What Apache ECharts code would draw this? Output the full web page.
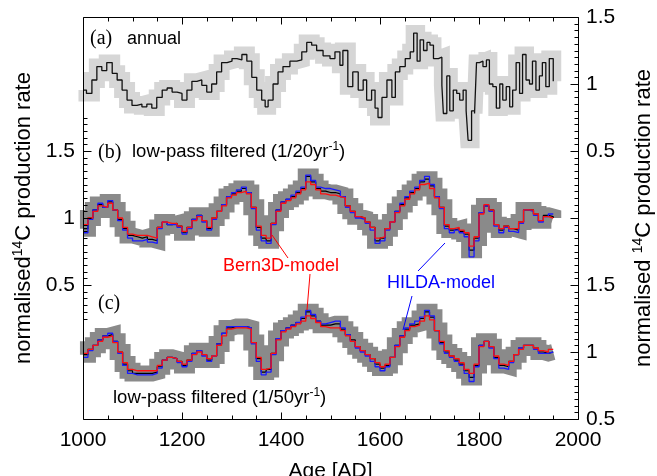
<!DOCTYPE html>
<html><head><meta charset="utf-8">
<script src="https://cdn.jsdelivr.net/npm/echarts@6/dist/echarts.min.js"></script>
<style>html,body{margin:0;padding:0;background:#fff}#c{width:657px;height:476px}</style>
</head><body><div id="c"></div>
<script>
// x positions (AD) shared by panels (b) and (c)
const years = [1000,1010,1020,1030,1040,1050,1060,1070,1080,1090,
1100,1110,1120,1130,1140,1150,1160,1170,1180,1190,
1200,1210,1220,1230,1240,1250,1260,1270,1280,1290,
1300,1310,1320,1330,1340,1350,1360,1370,1380,1390,
1400,1410,1420,1430,1440,1450,1460,1470,1480,1490,
1500,1510,1520,1530,1540,1550,1560,1570,1580,1590,
1600,1610,1620,1630,1640,1650,1660,1670,1680,1690,
1700,1710,1720,1730,1740,1750,1760,1770,1780,1790,
1800,1810,1820,1830,1840,1850,1860,1870,1880,1890,
1900,1910,1920,1930,1940,1950];

// (a) annual
const aYears = [1000,1007,1018,1028,1038,1048,1059,1069,1079,1089,1099,1109,1119,1129,1139,1149,1160,1170,1180,1190,1200,1210,1220,1230,1240,1250,1260,1270,1280,1291,1301,1311,1321,1331,1341,1351,1361,1368,1374,1384,1394,1404,1418,1432,1442,1452,1462,1472,1485,1499,1509,1519,1525,1535,1545,1556,1566,1573,1583,1590,1596,1604,1614,1624,1631,1640,1651,1661,1668,1675,1681,1688,1695,1701,1708,1718,1725,1728,1735,1741,1748,1755,1761,1768,1774,1778,1785,1791,1795,1801,1808,1815,1821,1828,1835,1842,1848,1855,1862,1868,1875,1882,1888,1895,1902,1908,1915,1922,1928,1935,1942,1950];
const aVals = [0.955,0.93,1.03,1.13,1.10,1.16,1.08,1.03,0.955,0.88,0.84,0.85,0.83,0.85,0.82,0.90,0.955,0.97,0.94,0.93,0.88,0.955,1.02,1.03,0.99,0.94,1.00,1.09,1.16,1.17,1.19,1.18,1.22,1.17,1.05,0.955,0.88,0.83,0.88,1.00,1.09,1.13,1.17,1.18,1.24,1.31,1.29,1.25,1.21,1.19,1.24,1.14,1.25,0.98,1.09,0.955,1.03,0.88,0.955,0.82,0.75,0.90,1.03,0.90,1.09,1.13,1.19,1.24,1.38,1.17,1.33,1.25,1.31,1.29,1.19,1.20,0.99,0.78,1.06,0.80,0.955,0.93,0.88,0.955,0.80,0.58,0.80,0.78,1.16,1.17,1.13,1.18,1.00,0.98,0.82,1.00,0.88,0.98,0.83,0.955,1.16,0.93,1.22,1.03,1.00,1.17,0.955,1.06,1.16,0.98,1.19,1.02];

// (b) low-pass 1/20yr
const bData = [0.92,1.00,1.06,1.10,1.08,1.12,1.06,0.99,0.92,0.87,
0.86,0.85,0.86,0.84,0.83,0.93,0.97,0.95,0.96,0.94,
0.89,0.93,0.99,1.02,0.98,0.92,1.00,1.05,1.10,1.16,
1.18,1.20,1.22,1.19,1.08,0.93,0.85,0.83,0.96,1.06,
1.12,1.14,1.16,1.19,1.22,1.31,1.27,1.22,1.20,1.19,
1.19,1.18,1.16,1.09,1.05,1.01,1.00,0.97,0.93,0.83,
0.85,0.92,0.97,1.05,1.10,1.15,1.19,1.22,1.27,1.29,
1.24,1.16,1.08,0.94,0.91,0.92,0.90,0.88,0.76,0.85,
1.04,1.09,1.06,0.95,0.91,0.94,0.92,0.91,0.97,1.06,
1.06,1.03,0.98,1.02,1.01,1.00];
const bHilda = [0.89,0.99,1.06,1.11,1.08,1.13,1.06,0.98,0.91,0.85,
0.83,0.83,0.84,0.82,0.81,0.92,0.97,0.95,0.95,0.93,
0.88,0.92,0.99,1.02,0.97,0.91,0.99,1.05,1.10,1.16,
1.19,1.21,1.23,1.19,1.07,0.91,0.83,0.81,0.95,1.06,
1.12,1.14,1.17,1.20,1.23,1.32,1.28,1.23,1.22,1.22,
1.21,1.20,1.16,1.08,1.04,1.00,0.99,0.96,0.91,0.81,
0.83,0.91,0.97,1.05,1.11,1.16,1.20,1.23,1.28,1.31,
1.25,1.16,1.07,0.92,0.89,0.91,0.89,0.86,0.71,0.83,
1.04,1.09,1.05,0.94,0.89,0.93,0.90,0.89,0.96,1.06,
1.05,1.02,0.97,1.01,1.03,1.03];
const bBern = [0.95,1.00,1.05,1.09,1.08,1.11,1.06,1.00,0.93,0.88,
0.87,0.87,0.87,0.86,0.85,0.93,0.97,0.96,0.96,0.94,
0.90,0.93,0.98,1.01,0.98,0.93,1.00,1.05,1.09,1.15,
1.17,1.19,1.20,1.18,1.08,0.94,0.87,0.85,0.96,1.05,
1.11,1.13,1.15,1.18,1.21,1.27,1.25,1.21,1.18,1.17,
1.17,1.16,1.15,1.09,1.05,1.01,1.00,0.97,0.93,0.85,
0.86,0.92,0.97,1.04,1.09,1.14,1.18,1.21,1.25,1.26,
1.22,1.15,1.08,0.95,0.92,0.93,0.91,0.89,0.79,0.86,
1.03,1.10,1.06,0.95,0.92,0.94,0.92,0.92,0.97,1.06,
1.06,1.03,0.98,1.01,1.00,1.00];

// (c) low-pass 1/50yr
const cData = [0.98,1.02,1.05,1.09,1.12,1.13,1.08,1.00,0.91,0.86,
0.84,0.84,0.84,0.84,0.85,0.89,0.94,0.96,0.95,0.93,
0.90,0.94,0.99,1.01,0.98,0.94,0.97,1.06,1.14,1.18,
1.19,1.19,1.19,1.18,1.07,0.95,0.85,0.87,0.99,1.10,
1.16,1.18,1.20,1.22,1.25,1.30,1.27,1.23,1.20,1.20,
1.21,1.21,1.17,1.13,1.09,1.04,1.01,0.98,0.95,0.91,
0.88,0.90,0.96,1.05,1.12,1.17,1.20,1.21,1.25,1.30,
1.26,1.16,1.07,1.00,0.97,0.94,0.91,0.86,0.81,0.90,
1.05,1.08,1.04,0.96,0.90,0.89,0.93,0.98,1.03,1.05,
1.05,1.03,1.00,0.99,1.00,1.00];
const cHilda = [0.96,1.01,1.05,1.09,1.12,1.14,1.08,0.99,0.90,0.84,
0.83,0.83,0.83,0.83,0.84,0.88,0.94,0.96,0.95,0.92,
0.89,0.93,0.99,1.01,0.97,0.93,0.97,1.06,1.14,1.19,
1.19,1.19,1.19,1.18,1.06,0.93,0.83,0.85,0.98,1.10,
1.16,1.18,1.20,1.22,1.26,1.31,1.28,1.23,1.21,1.22,
1.23,1.23,1.18,1.13,1.08,1.03,1.00,0.97,0.93,0.89,
0.86,0.89,0.96,1.05,1.12,1.18,1.21,1.23,1.26,1.31,
1.27,1.16,1.06,0.99,0.96,0.93,0.90,0.84,0.78,0.89,
1.05,1.08,1.03,0.95,0.88,0.87,0.92,0.98,1.03,1.05,
1.05,1.02,0.99,0.99,1.00,1.00];
const cBern = [0.99,1.02,1.05,1.08,1.11,1.12,1.07,1.00,0.92,0.87,
0.86,0.86,0.86,0.86,0.86,0.90,0.94,0.96,0.95,0.93,
0.91,0.94,0.98,1.00,0.98,0.95,0.97,1.05,1.12,1.17,
1.18,1.18,1.18,1.17,1.07,0.96,0.87,0.88,0.99,1.09,
1.15,1.17,1.19,1.21,1.23,1.27,1.25,1.22,1.19,1.18,
1.18,1.18,1.16,1.12,1.08,1.04,1.01,0.98,0.95,0.92,
0.89,0.91,0.96,1.04,1.11,1.16,1.19,1.20,1.23,1.27,
1.24,1.16,1.08,1.01,0.97,0.95,0.92,0.87,0.84,0.91,
1.04,1.08,1.04,0.97,0.91,0.90,0.93,0.98,1.02,1.05,
1.05,1.03,1.01,1.00,1.02,1.02];

const xTicks = [1000,1200,1400,1600,1800,2000];

const pair = (xs, vs) => xs.map((x, i) => [x, vs[i]]);
const SANS = 'Liberation Sans, Arial, sans-serif';
const SERIF = 'Liberation Serif, Times New Roman, serif';
const X0 = xTicks[0], X1 = xTicks[xTicks.length - 1];
const Y0 = -0.5, Y1 = 2.5;

function band(xs, vs, yIdx, w, col) {
  return {type:'line', step:'end', yAxisIndex:yIdx, data:pair(xs, vs), symbol:'none', silent:true,
    lineStyle:{color:col, width:w, join:'miter', cap:'butt'}, z:1};
}
function ln(xs, vs, yIdx, col, w, z) {
  return {type:'line', step:'end', yAxisIndex:yIdx, data:pair(xs, vs), symbol:'none', silent:true,
    lineStyle:{color:col, width:w}, z:z};
}
function yAx(min, max, pos, filt, extra) {
  return Object.assign({type:'value', min:min, max:max, interval:0.5, position:pos,
    axisLine:{show:false, onZero:false}, axisTick:{show:false}, minorTick:{show:false},
    splitLine:{show:false},
    axisLabel:{show:true, color:'#000', fontSize:21, fontFamily:SANS, margin:8,
      formatter: v => filt(v) ? String(Math.round(v*10)/10) : ''}}, extra || {});
}
const nameRich = {
  a:{fontSize:22, fontFamily:SANS, color:'#000', lineHeight:28},
  s:{fontSize:14, fontFamily:SANS, color:'#000', padding:[0,0,11,0]}
};
function xAx(pos, labels, extra) {
  return Object.assign({type:'value', min:X0, max:X1, interval:200, position:pos,
    axisLine:{show:false, onZero:false}, axisTick:{show:false}, minorTick:{show:false},
    splitLine:{show:false},
    axisLabel:{show:labels, color:'#000', fontSize:21, fontFamily:SANS, margin:11, formatter: v => String(v)}}, extra || {});
}

// Frame and inward ticks drawn through the axis scales (api.coord)
function renderFrame(params, api) {
  const tl = api.coord([X0, Y1]), br = api.coord([X1, Y0]);
  const L = Math.round(tl[0]) + 0.5, T = Math.round(tl[1]) + 0.5;
  const R = Math.round(br[0]) + 0.5, B = Math.round(br[1]) + 0.5;
  const st = {stroke:'#000', lineWidth:1, fill:null};
  const ch = [{type:'rect', shape:{x:L, y:T, width:R - L, height:B - T}, style:{stroke:'#000', lineWidth:1, fill:'rgba(0,0,0,0)'}}];
  const line = (x1, y1, x2, y2) => ch.push({type:'line', shape:{x1:x1, y1:y1, x2:x2, y2:y2}, style:st});
  for (let v = X0; v <= X1; v += 50) {
    const x = Math.round(api.coord([v, Y0])[0]) + 0.5;
    const len = (v - X0) % 200 === 0 ? 7 : 4;
    line(x, B, x, B - len);
    line(x, T, x, T + len);
  }
  for (let k = 0; k <= 60; k++) {
    const v = Y0 + k * 0.05;
    const y = Math.round(api.coord([X0, v])[1]) + 0.5;
    const len = k % 10 === 0 ? 8 : 4;
    line(R, y, R - len, y);
    if (k >= 15 && k <= 45) line(L, y, L + len, y);
  }
  return {type:'group', children:ch};
}

const option = {
  animation:false,
  grid:{left:83, right:79, top:17, bottom:57, outerBoundsMode:'none', containLabel:false},
  xAxis:[
    xAx('bottom', true, {name:'Age [AD]', nameLocation:'middle', nameGap:42,
      nameTextStyle:{color:'#000', fontSize:21, fontFamily:SANS}}),
    xAx('top', false)
  ],
  yAxis:[
    yAx(Y0, Y1, 'left', v => v >= 0.5 && v <= 1.5, {
      name:'{a|normalised}{s|14}{a|C production rate}', nameLocation:'middle', nameGap:42, nameRotate:90,
      nameTextStyle:{rich:nameRich}}),
    yAx(Y0 - 1, Y1 - 1, 'right', v => v >= 0.5, {
      name:'{a|normalised }{s|14}{a|C production rate}', nameLocation:'middle', nameGap:52, nameRotate:90,
      nameTextStyle:{rich:nameRich}}),
    yAx(Y0 + 1, Y1 + 1, 'right', v => v <= 1.5)
  ],
  series:[
    band(aYears, aVals, 1, 16, '#d6d6d6'),
    ln(aYears, aVals, 1, '#111', 1.3, 5),
    band(years, bData, 0, 16, '#8a8a8a'),
    ln(years, bData, 0, '#000', 1.2, 3),
    ln(years, bHilda, 0, '#1a1aff', 1.3, 4),
    ln(years, bBern, 0, '#ff1010', 1.3, 5),
    band(years, cData, 2, 16, '#8a8a8a'),
    ln(years, cData, 2, '#000', 1.2, 3),
    ln(years, cHilda, 2, '#1a1aff', 1.3, 4),
    ln(years, cBern, 2, '#ff1010', 1.3, 5),
    {type:'custom', xAxisIndex:0, yAxisIndex:0, data:[[X0, Y0]], renderItem:renderFrame,
     silent:true, clip:false, z:10}
  ],
  graphic:[
    {type:'text', left:90, top:29, style:{text:'(a)', font:'20px ' + SERIF, fill:'#000'}, z:20},
    {type:'text', left:127, top:30, style:{text:'annual', font:'18px ' + SANS, fill:'#000'}, z:20},
    {type:'text', left:98, top:143, style:{text:'(b)', font:'20px ' + SERIF, fill:'#000'}, z:20},
    {type:'text', left:132, top:141, style:{text:'{n|low-pass filtered (1/20yr}{s|-1}{n|)}',
      rich:{n:{fontSize:18.5, fontFamily:SANS, fill:'#000', lineHeight:24}, s:{fontSize:12, fontFamily:SANS, fill:'#000', padding:[0,0,10,0]}}}, z:20},
    {type:'text', left:98, top:294, style:{text:'(c)', font:'20px ' + SERIF, fill:'#000'}, z:20},
    {type:'text', left:113, top:387, style:{text:'{n|low-pass filtered (1/50yr}{s|-1}{n|)}',
      rich:{n:{fontSize:18.5, fontFamily:SANS, fill:'#000', lineHeight:24}, s:{fontSize:12, fontFamily:SANS, fill:'#000', padding:[0,0,10,0]}}}, z:20},
    {type:'text', left:223, top:257, style:{text:'Bern3D-model', font:'18px ' + SANS, fill:'#ff0000'}, z:20},
    {type:'text', left:387, top:274, style:{text:'HILDA-model', font:'18px ' + SANS, fill:'#0000ff'}, z:20},
    {type:'line', shape:{x1:288, y1:258, x2:272, y2:235}, style:{stroke:'#ff0000', lineWidth:1}, z:20},
    {type:'line', shape:{x1:310, y1:274, x2:307, y2:310}, style:{stroke:'#ff0000', lineWidth:1}, z:20},
    {type:'line', shape:{x1:418, y1:271, x2:445, y2:243}, style:{stroke:'#0000ff', lineWidth:1}, z:20},
    {type:'line', shape:{x1:412, y1:296, x2:403, y2:330}, style:{stroke:'#0000ff', lineWidth:1}, z:20}
  ]
};
const chart = echarts.init(document.getElementById('c'));
chart.setOption(option);
</script></body></html>
